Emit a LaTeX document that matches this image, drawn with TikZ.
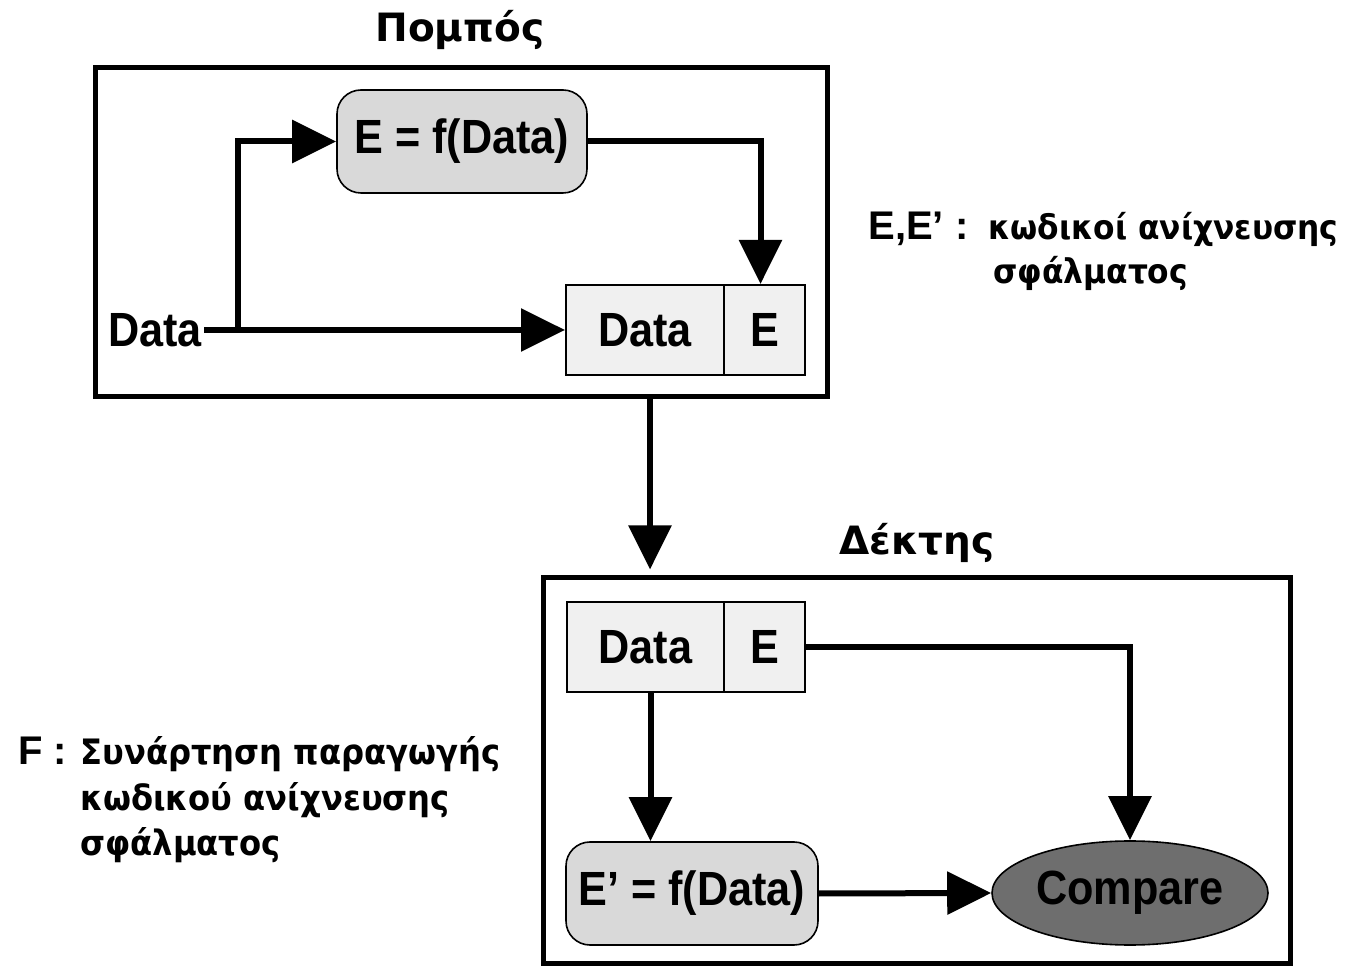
\documentclass[tikz,border=0pt]{standalone}
\usepackage{fontspec}
\usetikzlibrary{arrows.meta,shapes.geometric}
\newfontfamily\labelfont[FakeStretch=0.9]{Liberation Sans}
\newfontfamily\plainsans{Liberation Sans}
\newfontfamily\greekfont{DejaVu Sans}
\newfontfamily\greeknarrow[FakeStretch=0.92]{DejaVu Sans}
\definecolor{funcgray}{HTML}{D9D9D9}
\definecolor{cellgray}{HTML}{F0F0F0}
\definecolor{cmpgray}{HTML}{6E6E6E}
\begin{document}
\begin{tikzpicture}[x=0.5pt,y=-0.5pt,
  frame/.style={draw,line width=2.5pt,inner sep=0pt},
  cell/.style={draw,line width=1pt,fill=cellgray,inner sep=0pt,minimum height=45pt,font=\labelfont\bfseries\fontsize{24}{28}\selectfont},
  func/.style={draw,line width=0.8pt,fill=funcgray,rounded corners=12pt,inner sep=0pt,minimum height=51.5pt,font=\labelfont\bfseries\fontsize{24}{28}\selectfont},
  arr/.style={line width=3pt,-{Triangle[length=22pt,width=21pt]}},
  title/.style={font=\greekfont\bfseries\fontsize{19.5}{23}\selectfont},
  note/.style={font=\greeknarrow\bfseries\fontsize{17.5}{23}\selectfont,anchor=base west,inner sep=0pt},
  keyl/.style={anchor=base west,inner sep=0pt,font=\plainsans\bfseries\fontsize{20}{24}\selectfont}
]
\useasboundingbox (0,0) rectangle (1350,967);

% transmitter
\node[frame,minimum width=366pt,minimum height=164.5pt] (tx) at (461,232.5) {};
\node[title] (txt) at (460,30) {Πομπός};
\node[func,minimum width=125pt] (ef) at (462,141.5) {E = f(Data)};
\node[cell,minimum width=79pt] (d1) at (645,330) {Data};
\node[cell,minimum width=40.5pt] (e1) at (764.5,330) {E};
\node[font=\labelfont\bfseries\fontsize{24}{28}\selectfont,inner sep=1pt] (din) at (155,330) {Data};
\coordinate (br) at (238,330);

\draw[arr] (din.east) -- (d1.west);
\draw[arr] (br) |- (ef.west);
\draw[arr] (ef.east) -| ([xshift=-2pt]e1.north);

% receiver
\node[frame,minimum width=373.5pt,minimum height=192.5pt] (rx) at (916.5,770.5) {};
\node[title] (rxt) at (917,543) {Δέκτης};
\node[cell,minimum width=78.5pt] (d2) at (645.5,647) {Data};
\node[cell,minimum width=40.5pt] (e2) at (764.5,647) {E};
\node[func,minimum width=126pt] (efp) at (692,893.5) {E’ = f(Data)};
\node[ellipse,draw,line width=0.8pt,fill=cmpgray,minimum width=138pt,minimum height=52pt,inner sep=0pt,
      font=\labelfont\bfseries\fontsize{24}{28}\selectfont] (cmp) at (1130,893) {\raisebox{3pt}{Compare}};

\coordinate (tdown) at ([xshift=2.5pt]tx.south -| d1.south);
\coordinate (bdown) at ([xshift=2.5pt]d2.south);
\draw[arr,shorten >=3pt] (tdown) -- (tdown |- rx.north);
\draw[arr] (bdown) -- (bdown |- efp.north);
\draw[arr] (e2.east) -| (cmp.north);
\draw[arr] (efp.east) -- (cmp.west);

% legends
\node[keyl] (eeq) at (868,240) {E,E’ :};
\node[note,font=\greeknarrow\bfseries\fontsize{17}{23}\selectfont] (eeq2) at (988,240) {κωδικοί ανίχνευσης};
\node[note,font=\greeknarrow\bfseries\fontsize{17}{23}\selectfont] (eeq3) at (993,284) {σφάλματος};
\node[keyl] (fl) at (18,764) {F :};
\node[note] (fl1) at (80,764) {Συνάρτηση παραγωγής};
\node[note] (fl2) at (80,811) {κωδικού ανίχνευσης};
\node[note] (fl3) at (80,856) {σφάλματος};
\end{tikzpicture}
\end{document}
